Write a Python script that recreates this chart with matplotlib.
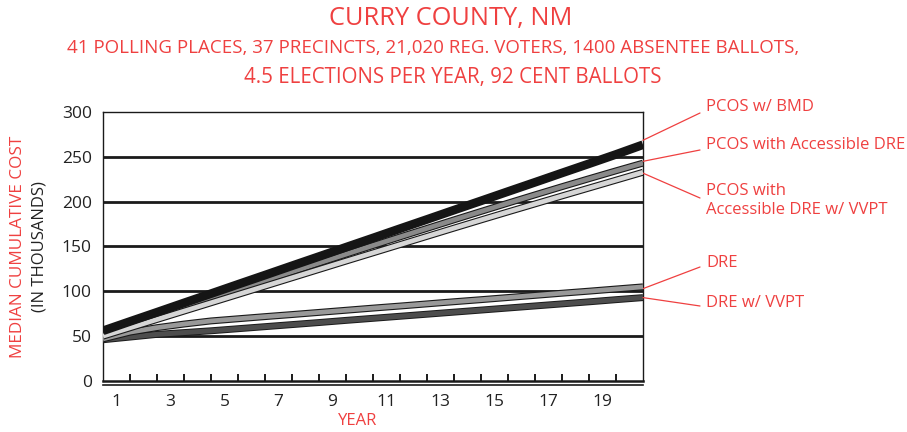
import matplotlib
matplotlib.use("Agg")
import matplotlib.pyplot as plt
import matplotlib.patheffects as pe
import numpy as np

plt.rcParams['font.family'] = ['Open Sans', 'DejaVu Sans']

# ---- data ----
x_points = list(range(21))  # boundaries: start of year 1 ... end of year 20
pcos_bmd = [56, 66.4, 76.7, 87.1, 97.4, 107.8, 118.1, 128.5, 138.8, 149.2, 159.5,
            169.9, 180.2, 190.6, 200.9, 211.3, 221.6, 232.0, 242.3, 252.7, 263.5]
pcos_acc_dre = [51, 61.2, 71.4, 81.5, 91.6, 101.7, 111.7, 121.7, 131.6, 141.4, 151.1,
                160.7, 170.2, 179.7, 189.1, 198.4, 207.6, 216.7, 225.6, 234.4, 243]
pcos_acc_dre_vvpt = [50, 59.3, 68.6, 77.9, 87.2, 96.5, 105.8, 115.1, 124.4, 133.7, 142.9,
                     152.1, 161.3, 170.5, 179.6, 188.6, 197.5, 206.4, 215.2, 224.0, 232.8]
dre = [47, 54.5, 59.5, 63.5, 67, 69.4, 71.8, 74.1, 76.5, 78.9, 81.3,
       83.6, 86.0, 88.4, 90.7, 93.1, 95.5, 97.9, 100.2, 102.6, 105]
dre_vvpt = [46, 49, 52, 54, 56, 58.3, 60.6, 62.9, 65.2, 67.6, 69.9,
            72.2, 74.5, 76.8, 79.1, 81.4, 83.7, 86.0, 88.3, 90.7, 93]

year_labels = ['1', '3', '5', '7', '9', '11', '13', '15', '17', '19']
year_label_pos = [1, 3, 5, 7, 9, 11, 13, 15, 17, 19]
y_ticks = [0, 50, 100, 150, 200, 250, 300]

series_names = ['PCOS w/ BMD', 'PCOS with Accessible DRE', 'PCOS with\nAccessible DRE w/ VVPT',
                'DRE', 'DRE w/ VVPT']

RED = '#ef4040'

fig = plt.figure(figsize=(9.07, 4.32), dpi=100)
ax = fig.add_axes([103/907, (432-381)/432, 540/907, 269/432])
ax.set_xlim(0, 20)
ax.set_ylim(0, 300)

# gridlines
for v in y_ticks[1:-1]:
    ax.axhline(v, color='#1a1a1a', lw=2.0, zorder=1)

def outlined(y, inner, lw_in, lw_out, z):
    ax.plot(x_points, y, color=inner, lw=lw_in, solid_capstyle='butt', zorder=z,
            path_effects=[pe.Stroke(linewidth=lw_out, foreground='#1a1a1a', capstyle='butt'), pe.Normal()])

outlined(dre_vvpt, '#4d4d4d', 3.6, 5.0, 3)
outlined(dre, '#999999', 3.4, 5.0, 4)
outlined(pcos_acc_dre, '#8a8a8a', 3.4, 5.0, 5)
outlined(pcos_acc_dre_vvpt, '#d6d6d6', 3.4, 5.0, 6)
ax.plot(x_points, pcos_bmd, color='#151515', lw=6.3, solid_capstyle='butt', zorder=7)

# spines
for s in ['left', 'right', 'top']:
    ax.spines[s].set_linewidth(1.0)
    ax.spines[s].set_color('#1a1a1a')
ax.spines['bottom'].set_linewidth(1.8)
ax.spines['bottom'].set_color('#1a1a1a')
ax.plot([0, 1], [-0.014, -0.014], transform=ax.transAxes, color='#1a1a1a', lw=1.2, clip_on=False)

# y ticks
ax.set_yticks(y_ticks)
ax.set_yticklabels([str(v) for v in y_ticks], fontsize=12.5, color='#222222')
ax.tick_params(axis='y', length=0, pad=8)

# x ticks: small marks at year boundaries, labels centered in years
ax.set_xticks([p - 0.5 for p in year_label_pos])
ax.set_xticklabels(year_labels, fontsize=12.5, color='#222222')
ax.tick_params(axis='x', length=0, pad=9)
ax.set_xticks(list(range(1, 20)), minor=True)
ax.tick_params(axis='x', which='minor', direction='in', length=5, width=1.4, color='#1a1a1a')

# axis labels
fig.text(358/907, 1 - 421/432, 'YEAR', color=RED, fontsize=12, ha='center', va='center')
fig.text(18/907, 1 - 247/432, 'MEDIAN CUMULATIVE COST', color=RED, fontsize=12.3,
         rotation=90, ha='center', va='center')
fig.text(40/907, 1 - 247/432, '(IN THOUSANDS)', color='#222222', fontsize=12,
         rotation=90, ha='center', va='center')

# titles
fig.text(451/907, 1 - 19/432, 'CURRY COUNTY, NM', color=RED, fontsize=18.3, ha='center', va='center')
fig.text(433/907, 1 - 48/432, '41 POLLING PLACES, 37 PRECINCTS, 21,020 REG. VOTERS, 1400 ABSENTEE BALLOTS,',
         color=RED, fontsize=13.5, ha='center', va='center')
fig.text(453/907, 1 - 78/432, '4.5 ELECTIONS PER YEAR, 92 CENT BALLOTS',
         color=RED, fontsize=14.8, ha='center', va='center')

# callouts
callouts = [
    (pcos_bmd[-1] + 5, 113, 107, series_names[0]),
    (pcos_acc_dre[-1] + 2, 150, 145, series_names[1]),
    (pcos_acc_dre_vvpt[-1] - 1, 198, 200, series_names[2]),
    (dre[-1] - 2, 267, 263, series_names[3]),
    (dre_vvpt[-1], 306, 303, series_names[4]),
]
for yv, line_end_py, text_py, name in callouts:
    ax.annotate('', xy=(20, yv), xycoords='data',
                xytext=(700/907, 1 - line_end_py/432), textcoords='figure fraction',
                arrowprops=dict(arrowstyle='-', color=RED, lw=0.9, shrinkA=0, shrinkB=0),
                annotation_clip=False)
    fig.text(706/907, 1 - text_py/432, name, color=RED, fontsize=12, ha='left', va='center',
             linespacing=1.25)

fig.savefig('out.png', dpi=100)
